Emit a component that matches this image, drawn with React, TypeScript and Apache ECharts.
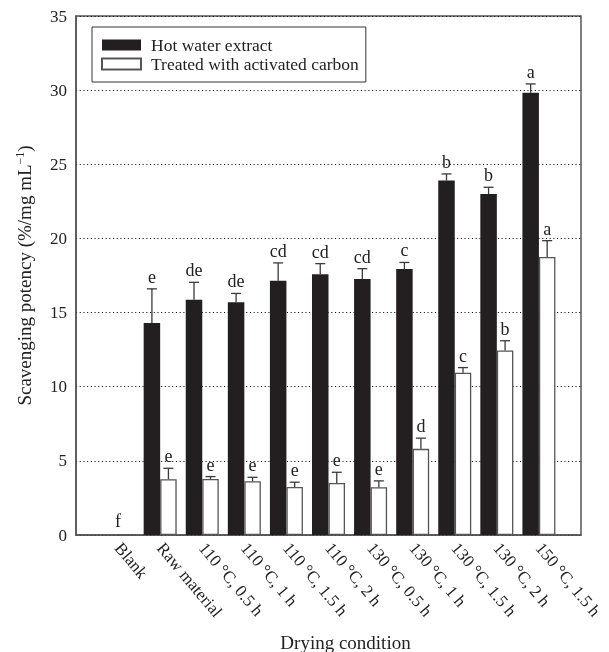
import React, { useEffect, useRef } from "react";
import * as echarts from "echarts";

const categories = ["Blank", "Raw material", "110 °C, 0.5 h", "110 °C, 1 h", "110 °C, 1.5 h", "110 °C, 2 h", "130 °C, 0.5 h", "130 °C, 1 h", "130 °C, 1.5 h", "130 °C, 2 h", "150 °C, 1.5 h"];
const hotWater = [0, 14.3, 15.87, 15.69, 17.15, 17.58, 17.26, 17.93, 23.9, 23.0, 29.82];
const hotWaterErr = [0, 2.3, 1.17, 0.6, 1.2, 0.72, 0.7, 0.45, 0.45, 0.45, 0.6];
const hotWaterLetters = ["", "e", "de", "de", "cd", "cd", "cd", "c", "b", "b", "a"];
const treated = [0, 3.76, 3.78, 3.62, 3.24, 3.51, 3.22, 5.81, 10.94, 12.45, 18.75];
const treatedErr = [0, 0.74, 0.16, 0.27, 0.32, 0.72, 0.43, 0.72, 0.35, 0.65, 1.1];
const treatedLetters = ["", "e", "e", "e", "e", "e", "e", "d", "c", "b", "a"];
const blankLetter = "f";
const yTicks = { min: 0, max: 35, interval: 5 };

const FONT = "Liberation Serif";

export default function App() {
  const ref = useRef<HTMLDivElement>(null);
  useEffect(() => {
    if (!ref.current) return;
    const chart = echarts.init(ref.current, undefined, { renderer: "svg" });
    const axisCats = ["", ...categories, ""];
    const pad = (arr: number[]) => [null, ...arr, null];
    const barW = 16.5;

    const errSeries = (name: string, means: number[], errs: number[], letters: string[], offset: number, gap: number) => ({
      type: "custom",
      name,
      silent: true,
      z: 5,
      data: means.map((m, i) => [i + 1, m, errs[i]]),
      renderItem: (params: any, api: any) => {
        const idx = api.value(0);
        const mean = api.value(1);
        const err = api.value(2);
        const base = api.coord([idx, mean]);
        const top = api.coord([idx, mean + err]);
        const x = base[0] + offset;
        const children: any[] = [];
        if (err > 0) {
          children.push({ type: "line", shape: { x1: x, y1: base[1], x2: x, y2: top[1] }, style: { stroke: "#3a3a3a", lineWidth: 1.3 } });
          children.push({ type: "line", shape: { x1: x - 5, y1: top[1], x2: x + 5, y2: top[1] }, style: { stroke: "#3a3a3a", lineWidth: 1.3 } });
        }
        const letter = letters[params.dataIndex];
        if (letter) {
          children.push({
            type: "text",
            style: { text: letter, x, y: top[1] - gap, align: "center", verticalAlign: "bottom", fontFamily: FONT, fontSize: 18, fill: "#222" },
          });
        }
        return { type: "group", children };
      },
    });

    chart.setOption({
      animation: false,
      grid: {
        left: 76, right: 28, top: 16, bottom: 117,
        containLabel: false, outerBoundsMode: "none",
        show: true, borderColor: "#555", borderWidth: 1.5, backgroundColor: "transparent",
      },
      legend: {
        left: 92,
        top: 27,
        orient: "vertical",
        icon: "rect",
        itemWidth: 39,
        itemHeight: 11,
        itemGap: 1,
        borderColor: "#333",
        borderWidth: 1,
        padding: [9, 7, 9, 9],
        data: ["Hot water extract", "Treated with activated carbon"],
        textStyle: { fontFamily: FONT, fontSize: 17.5, color: "#222", padding: [0, 0, 0, 5] },
      },
      xAxis: {
        type: "category",
        data: axisCats,
        boundaryGap: false,
        axisLine: { lineStyle: { color: "#555", width: 1.5 } },
        axisTick: { show: false },
        axisLabel: { interval: 0, rotate: -50, margin: 10, fontFamily: FONT, fontSize: 17, color: "#222" },
        name: "Drying condition",
        nameLocation: "middle",
        nameGap: 98,
        nameTextStyle: { fontFamily: FONT, fontSize: 19, color: "#222", padding: [0, 0, 0, 34], verticalAlign: "top" },
      },
      yAxis: {
        type: "value",
        min: yTicks.min,
        max: yTicks.max,
        interval: yTicks.interval,
        axisLine: { show: true, lineStyle: { color: "#555", width: 1.5 } },
        axisTick: { show: false },
        axisLabel: { fontFamily: FONT, fontSize: 17, color: "#222", margin: 9 },
        splitLine: { show: true, lineStyle: { color: "#111", width: 1.1, type: [1.1, 2.6] } },
        name: "Scavenging potency (%/mg mL{sup|−1})",
        nameLocation: "middle",
        nameGap: 42,
        nameTextStyle: {
          fontFamily: FONT,
          fontSize: 19,
          color: "#222",
          rich: { sup: { fontFamily: FONT, fontSize: 12, color: "#222", padding: [0, 0, 8, 0] } },
        },
      },
      series: [
        {
          type: "bar",
          name: "Hot water extract",
          data: pad(hotWater),
          barWidth: barW,
          barGap: "0%",
          itemStyle: { color: "#231f20", borderColor: "#231f20", borderWidth: 0 },
        },
        {
          type: "bar",
          name: "Treated with activated carbon",
          data: pad(treated),
          barWidth: barW,
          barGap: "0%",
          itemStyle: { color: "#fff", borderColor: "#555", borderWidth: 1.3 },
        },
        errSeries("hwErr", hotWater, hotWaterErr, hotWaterLetters, -barW / 2, 3),
        errSeries("trErr", treated, treatedErr, treatedLetters, barW / 2, 3),
        errSeries("blank", [0], [0], [blankLetter], 0, 5),
      ],
    });
    return () => chart.dispose();
  }, []);
  return <div ref={ref} style={{ position: "fixed", left: 0, top: 0, width: 609, height: 652 }} />;
}
